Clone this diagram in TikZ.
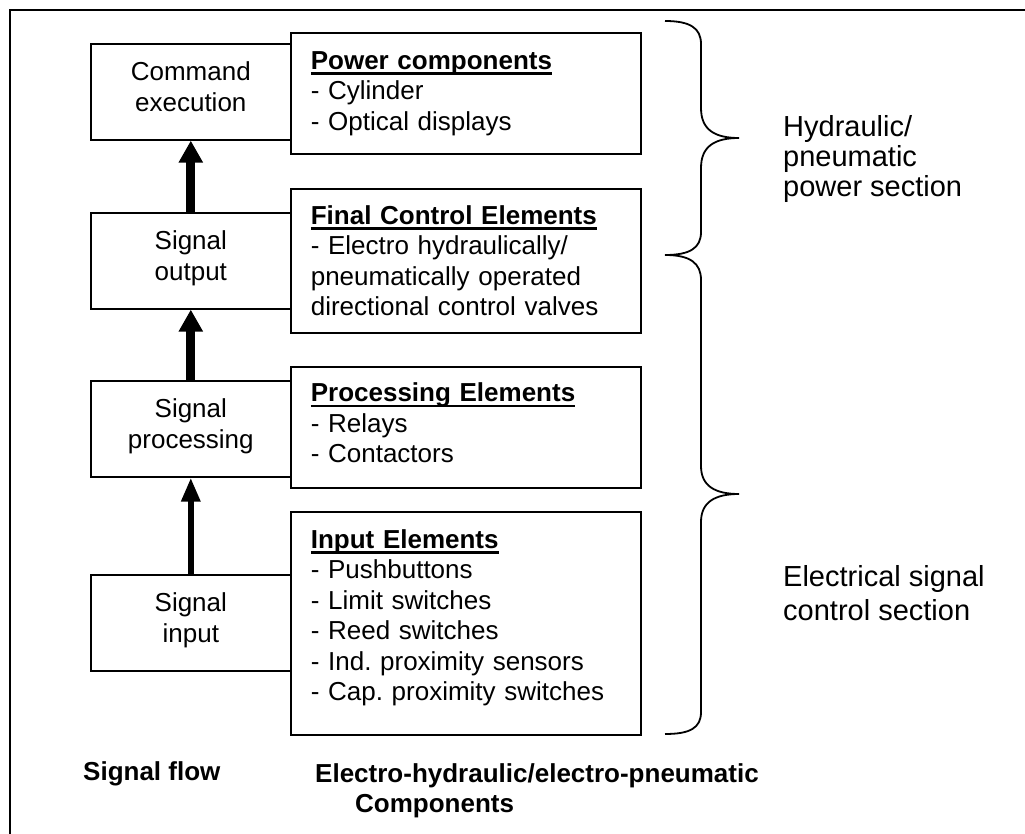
\documentclass[tikz,border=0pt]{standalone}
\usepackage{fontspec}
\setmainfont{Liberation Sans}
\usetikzlibrary{arrows.meta}

\newsavebox{\headbox}
\newcommand{\heading}[1]{\sbox{\headbox}{\textbf{#1}}%
    \rlap{\rule[-5.5pt]{\wd\headbox}{2.5pt}}\usebox{\headbox}}

\begin{document}
\frenchspacing
\begin{tikzpicture}[x=1pt,y=-1pt]

    % styles
    \tikzstyle{frame} = [line width=2pt,draw=black]
    \tikzstyle{stage} = [draw,line width=1.6pt,minimum width=200pt,minimum height=96pt,
        inner sep=0pt,align=center,font=\fontsize{26}{31}\selectfont]
    \tikzstyle{parts} = [draw,line width=1.6pt,minimum width=350pt,text width=310pt,
        inner xsep=20pt,inner ysep=0pt,align=left,font=\fontsize{26}{30.5}\selectfont]
    \tikzstyle{flow} = [line width=9pt,-{Triangle[width=23pt,length=22pt]}]
    \tikzstyle{flowthin} = [line width=6pt,-{Triangle[width=18pt,length=24pt]}]
    \tikzstyle{brace} = [line width=1.8pt,draw=black]
    \tikzstyle{section} = [anchor=west,align=left,inner sep=0pt]
    \tikzstyle{caption} = [inner sep=0pt,align=left,font=\fontsize{26}{30}\selectfont\bfseries]

    \useasboundingbox (0,0) rectangle (1025,834);
    \path[frame] (10,834) -- (10,10) -- (1025,10);

    % signal flow
    \node[stage,anchor=north west] (exec) at (90,43)  {Command\\execution\\[-20pt]\mbox{}};
    \node[stage,anchor=north west] (sout) at (90,212) {Signal\\output\\[-20pt]\mbox{}};
    \node[stage,anchor=north west] (sproc) at (90,380) {Signal\\processing\\[-20pt]\mbox{}};
    \node[stage,anchor=north west] (sin) at (90,574) {Signal\\input\\[-20pt]\mbox{}};

    \draw[flow] (sout) -- (exec);
    \draw[flow] (sproc) -- (sout);
    \draw[flowthin] (sin) -- (sproc);

    % components
    \node[parts,anchor=north west,minimum height=121pt] (power) at (290,32)
        {\heading{Power components}\\- Cylinder\\- Optical displays};
    \node[parts,anchor=north west,minimum height=144pt] (final) at (290,188)
        {\heading{Final Control Elements}\\- Electro hydraulically/\\pneumatically operated\\directional control valves};
    \node[parts,anchor=north west,minimum height=121pt] (proc) at (290,366)
        {\heading{Processing Elements}\\- Relays\\- Contactors\\[-21.5pt]\mbox{}};
    \node[parts,anchor=north west,minimum height=223pt] (input) at (290,511)
        {\heading{Input Elements}\\- Pushbuttons\\- Limit switches\\- Reed switches\\- Ind. proximity sensors\\- Cap. proximity switches\\[-14.5pt]\mbox{}};

    % braces
    \path[brace] (665,21) .. controls (690,21) and (701,28) .. (701,44) -- (701,108)
        .. controls (701,130) and (715,138) .. (739,138)
        .. controls (715,138) and (701,146) .. (701,168) -- (701,232)
        .. controls (701,248) and (690,255) .. (665,255);
    \path[brace] (665,255) .. controls (690,255) and (701,263) .. (701,280) -- (701,466)
        .. controls (701,486) and (715,494) .. (739,494)
        .. controls (715,494) and (701,502) .. (701,522) -- (701,712)
        .. controls (701,728) and (690,734) .. (665,734);

    \node[section,font=\fontsize{29}{30}\selectfont] (hyd) at (783,159)
        {Hydraulic/\\pneumatic\\power section};
    \node[section,font=\fontsize{29}{34}\selectfont] (elec) at (783,593)
        {Electrical signal\\control section};

    % captions
    \node[caption,anchor=west] (sigflow) at (83,774) {Signal flow};
    \node[caption,anchor=north west] (ehcomp) at (315,763)
        {Electro-hydraulic/electro-pneumatic\\\hspace*{40pt}Components};
\end{tikzpicture}
\end{document}
